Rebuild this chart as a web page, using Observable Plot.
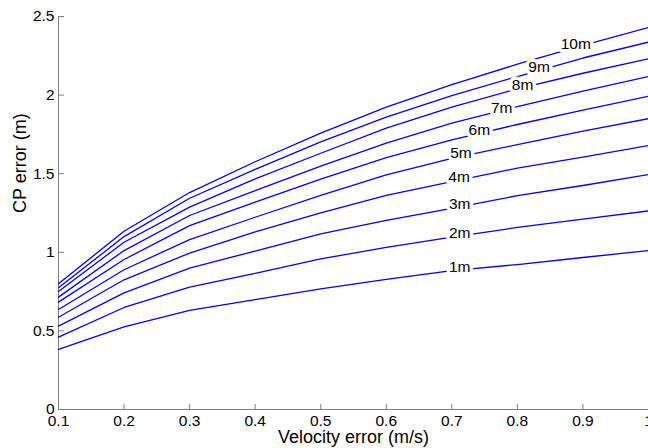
<!DOCTYPE html>
<html>
<head>
<meta charset="utf-8">
<script src="https://cdn.jsdelivr.net/npm/d3@7"></script>
<script src="https://cdn.jsdelivr.net/npm/@observablehq/plot@0.6"></script>
<style>
  html, body { margin: 0; padding: 0; background: #fff; }
  #chart { width: 648px; height: 448px; overflow: hidden; }
</style>
</head>
<body>
<div id="chart"></div>
<script>
// Velocity error (m/s)
const velocity = [0.1, 0.2, 0.3, 0.4, 0.5, 0.6, 0.7, 0.8, 0.9, 1.0];

// CP error (m) for each contour level
const cp1m  = [0.382, 0.526, 0.630, 0.699, 0.768, 0.828, 0.884, 0.922, 0.967, 1.011];
const cp2m  = [0.460, 0.649, 0.778, 0.866, 0.958, 1.031, 1.096, 1.158, 1.211, 1.263];
const cp3m  = [0.530, 0.742, 0.900, 1.008, 1.117, 1.203, 1.280, 1.360, 1.425, 1.495];
const cp4m  = [0.587, 0.825, 0.995, 1.130, 1.251, 1.362, 1.450, 1.535, 1.605, 1.679];
const cp5m  = [0.636, 0.889, 1.081, 1.223, 1.362, 1.493, 1.598, 1.685, 1.771, 1.850];
const cp6m  = [0.683, 0.954, 1.170, 1.319, 1.466, 1.602, 1.715, 1.813, 1.905, 1.993];
const cp7m  = [0.715, 1.011, 1.234, 1.393, 1.548, 1.694, 1.822, 1.927, 2.025, 2.118];
const cp8m  = [0.751, 1.064, 1.287, 1.467, 1.630, 1.790, 1.923, 2.040, 2.139, 2.231];
const cp9m  = [0.774, 1.100, 1.344, 1.528, 1.702, 1.860, 1.997, 2.118, 2.236, 2.337];
const cp10m = [0.800, 1.134, 1.380, 1.576, 1.758, 1.924, 2.066, 2.197, 2.316, 2.430];

const levelNames = ["1m", "2m", "3m", "4m", "5m", "6m", "7m", "8m", "9m", "10m"];
// velocity at which each inline label sits
const labelVelocity = [0.712, 0.712, 0.712, 0.711, 0.714, 0.742, 0.776, 0.808, 0.833, 0.889];

const xTicks = [0.1, 0.2, 0.3, 0.4, 0.5, 0.6, 0.7, 0.8, 0.9, 1.0];
const yTicks = [0, 0.5, 1, 1.5, 2, 2.5];

const allSeries = [cp1m, cp2m, cp3m, cp4m, cp5m, cp6m, cp7m, cp8m, cp9m, cp10m];

const rows = [];
allSeries.forEach((arr, i) => {
  arr.forEach((v, j) => rows.push({level: levelNames[i], x: velocity[j], y: v}));
});

const interp = (arr, xv) => {
  for (let j = 0; j < velocity.length - 1; j++) {
    if (xv >= velocity[j] && xv <= velocity[j + 1]) {
      const t = (xv - velocity[j]) / (velocity[j + 1] - velocity[j]);
      return arr[j] + t * (arr[j + 1] - arr[j]);
    }
  }
  return arr[arr.length - 1];
};
const labels = levelNames.map((n, i) => ({
  text: n, x: labelVelocity[i], y: interp(allSeries[i], labelVelocity[i])
}));

const font = "'Liberation Sans', Arial, Helvetica, sans-serif";

const plot = Plot.plot({
  width: 648,
  height: 448,
  marginLeft: 58,
  marginRight: 0,
  marginTop: 16,
  marginBottom: 39,
  style: {fontFamily: font, fontSize: "15.5px", color: "#000", background: "#fff", overflow: "visible"},
  x: {domain: [0.1, 1.0]},
  y: {domain: [0, 2.5]},
  marks: [
    Plot.ruleY([0], {stroke: "#808080", strokeWidth: 1}),
    Plot.ruleX([0.1], {stroke: "#808080", strokeWidth: 1}),
    Plot.axisX(xTicks, {
      tickSize: -5, tickPadding: 10, stroke: "#808080",
      tickFormat: d => d3.format("~g")(d), label: null, fill: "#000"
    }),
    Plot.axisY(yTicks, {
      tickSize: -6, tickPadding: 10, stroke: "#808080",
      tickFormat: d => d3.format("~g")(d), label: null, fill: "#000"
    }),
    Plot.line(rows, {x: "x", y: "y", z: "level", stroke: "#0000ff", strokeWidth: 1.3}),
    Plot.text(labels, {
      x: "x", y: "y", text: "text", fill: "#000", dy: -3,
      stroke: "#fff", strokeWidth: 7, paintOrder: "stroke",
      fontSize: 15.5, textAnchor: "middle"
    }),
    Plot.text(["Velocity error (m/s)"], {
      frameAnchor: "bottom", dy: 28, text: d => d, fontSize: 18, fill: "#000", lineAnchor: "middle"
    }),
    Plot.text(["CP error (m)"], {
      frameAnchor: "left", dx: -38, rotate: -90, text: d => d, fontSize: 18, fill: "#000"
    })
  ]
});
document.getElementById("chart").append(plot);
</script>
</body>
</html>
